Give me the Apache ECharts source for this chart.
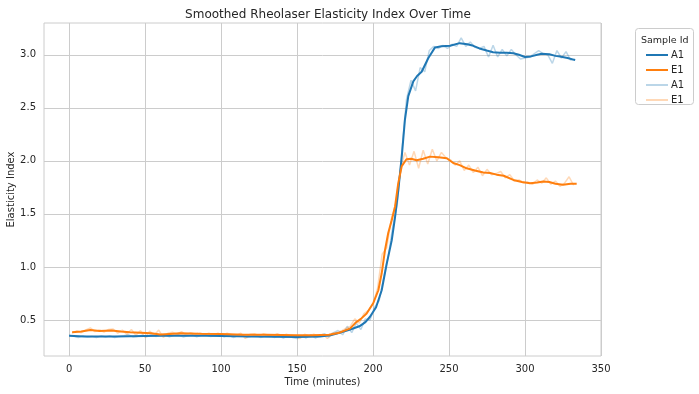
<!DOCTYPE html>
<html><head><meta charset="utf-8">
<script src="https://cdn.jsdelivr.net/npm/echarts@6/dist/echarts.min.js"></script>
<style>html,body{margin:0;padding:0;background:#fff}#c{width:699px;height:394px}</style>
</head><body><div id="c"></div>
<script>
const chartTitle = 'Smoothed Rheolaser Elasticity Index Over Time';
const xName = 'Time (minutes)';
const yName = 'Elasticity Index';
const legendTitle = 'Sample Id';
const xTicks = [0, 50, 100, 150, 200, 250, 300, 350];
const yTicks = [0.5, 1.0, 1.5, 2.0, 2.5, 3.0];

// smoothed series [time, value]
const a1Smooth = [[0,0.35],[10,0.345],[30,0.345],[60,0.35],[90,0.35],[120,0.345],[150,0.34],[165,0.345],[172,0.355],[178,0.38],[185,0.41],[191,0.44],[195,0.48],[198,0.53],[202,0.62],[205.7,0.78],[209,1.03],[212.3,1.25],[214.5,1.47],[216.6,1.72],[218.9,2.04],[221,2.39],[223.2,2.61],[226.5,2.75],[229,2.80],[232,2.84],[236.4,2.97],[240.8,3.07],[245,3.08],[250.7,3.085],[257,3.11],[262,3.10],[266,3.085],[270,3.06],[274.8,3.04],[279,3.025],[283.6,3.02],[288,3.02],[292.3,3.015],[296,3.0],[300,2.98],[304,2.985],[308,3.0],[311,3.01],[316,3.005],[320,2.99],[323,2.985],[328,2.97],[333,2.95]];
const e1Smooth = [[2,0.385],[8,0.39],[14,0.405],[20,0.395],[28,0.40],[34,0.39],[40,0.385],[47,0.38],[54,0.375],[60,0.362],[66,0.368],[73,0.375],[85,0.37],[100,0.368],[115,0.36],[130,0.36],[150,0.355],[160,0.355],[171,0.36],[178,0.38],[185,0.42],[189,0.48],[192,0.51],[195.8,0.56],[200.2,0.66],[203.5,0.78],[205.7,0.94],[207.9,1.16],[210,1.32],[212.3,1.44],[214.5,1.57],[216.6,1.79],[218.9,1.95],[222,2.015],[225,2.02],[228.7,2.005],[233,2.02],[237.5,2.04],[243,2.035],[248.5,2.025],[252.8,1.98],[257,1.96],[261.6,1.93],[267,1.91],[272.6,1.89],[277,1.885],[281.3,1.87],[286,1.86],[292.3,1.82],[298,1.80],[303.3,1.79],[308,1.795],[312,1.805],[316,1.80],[320,1.785],[325,1.775],[330,1.785],[334,1.785]];

// raw series [time, value]
const a1Raw = [[0,0.355],[3,0.345],[6,0.335],[9,0.35],[12,0.34],[15,0.345],[18,0.335],[21,0.35],[24,0.34],[27,0.35],[30,0.335],[33,0.345],[36,0.35],[39,0.36],[42,0.34],[45,0.345],[48,0.355],[51,0.34],[54,0.36],[57,0.345],[60,0.35],[63,0.36],[66,0.34],[69,0.355],[72,0.36],[75,0.34],[78,0.35],[81,0.36],[84,0.34],[87,0.355],[90,0.36],[93,0.345],[96,0.35],[99,0.36],[102,0.34],[105,0.355],[108,0.335],[111,0.35],[114,0.355],[117,0.335],[120,0.345],[123,0.355],[126,0.335],[129,0.35],[132,0.355],[135,0.335],[138,0.35],[141,0.33],[144,0.35],[147,0.335],[150,0.325],[153,0.35],[156,0.33],[159,0.36],[162,0.33],[165,0.35],[168,0.37],[171,0.34],[174,0.38],[177,0.40],[180,0.36],[183,0.44],[186,0.38],[189,0.47],[192,0.41],[195,0.51],[198,0.50],[201,0.62],[204,0.68],[207,0.90],[210,1.10],[213,1.38],[216,1.60],[219,2.10],[222,2.58],[225,2.76],[228,2.66],[231,2.88],[234,2.84],[237,3.04],[240,3.08],[243,3.06],[246,3.09],[249,3.06],[252,3.10],[255,3.08],[258,3.16],[261,3.08],[264,3.12],[267,3.07],[270,3.06],[273,3.08],[276,2.98],[279,3.09],[282,2.98],[285,3.05],[288,2.99],[291,3.05],[294,3.00],[297,2.96],[300,2.97],[303,2.98],[306,3.01],[309,3.04],[312,3.01],[315,3.00],[318,2.92],[321,3.04],[324,2.97],[327,3.03],[330,2.95],[333,2.96]];
const e1Raw = [[2,0.38],[5,0.395],[8,0.38],[11,0.405],[14,0.425],[17,0.39],[20,0.405],[23,0.385],[26,0.41],[29,0.415],[32,0.375],[35,0.405],[38,0.365],[41,0.41],[44,0.355],[47,0.40],[50,0.335],[53,0.395],[56,0.355],[59,0.405],[62,0.335],[65,0.375],[68,0.385],[71,0.365],[74,0.39],[77,0.36],[80,0.38],[83,0.365],[86,0.38],[89,0.36],[92,0.375],[95,0.36],[98,0.375],[101,0.355],[104,0.375],[107,0.36],[110,0.355],[113,0.375],[116,0.325],[119,0.365],[122,0.37],[125,0.35],[128,0.37],[131,0.355],[134,0.35],[137,0.37],[140,0.35],[143,0.365],[146,0.35],[149,0.345],[152,0.325],[155,0.365],[158,0.35],[161,0.365],[164,0.35],[167,0.365],[170,0.325],[173,0.375],[176,0.38],[179,0.395],[182,0.42],[185,0.44],[188,0.51],[191,0.47],[194,0.56],[197,0.59],[200,0.65],[203,0.80],[206,1.12],[209,1.18],[212,1.45],[215,1.60],[218,1.92],[221,2.08],[224,1.96],[227,2.09],[230,1.93],[233,2.10],[236,1.97],[239,2.11],[242,2.00],[245,2.08],[248,2.03],[251,2.01],[254,1.96],[257,2.00],[260,1.91],[263,1.96],[266,1.89],[269,1.94],[272,1.86],[275,1.92],[278,1.87],[281,1.88],[284,1.90],[287,1.84],[290,1.87],[293,1.81],[296,1.82],[299,1.79],[302,1.80],[305,1.78],[308,1.82],[311,1.79],[314,1.84],[317,1.78],[320,1.81],[323,1.76],[326,1.79],[329,1.85],[332,1.77]];

const FONT = 'DejaVu Sans';
const TXT = '#262626';
const chart = echarts.init(document.getElementById('c'), null, {renderer: 'canvas'});
chart.setOption({
  animation: false,
  backgroundColor: '#fff',
  title: [
    {text: chartTitle, left: 323, top: 4, textAlign: 'center', textStyle: {fontFamily: FONT, fontSize: 12, fontWeight: 'normal', color: TXT}},
    {text: legendTitle, left: 636, top: 31, textStyle: {fontFamily: FONT, fontSize: 9.5, fontWeight: 'normal', color: TXT}}
  ],
  graphic: [{type: 'rect', left: 635, top: 28, shape: {width: 58, height: 76, r: 3}, style: {fill: '#fff', stroke: '#cccccc', lineWidth: 1}, z: -1}],
  legend: {
    orient: 'vertical', left: 641, top: 45, itemGap: 5, itemWidth: 22, itemHeight: 2, icon: 'rect',
    data: ['A1', 'E1', 'A1 raw', 'E1 raw'],
    formatter: n => n.replace(' raw', ''),
    textStyle: {fontFamily: FONT, fontSize: 10, color: TXT, padding: [0, 0, 0, -2]}
  },
  grid: {left: 44, top: 23, width: 557, height: 333, show: true, borderColor: '#cccccc', borderWidth: 1, containLabel: false, outerBoundsMode: 'none'},
  xAxis: {
    type: 'value', min: -16.5, max: 350,
    name: xName, nameLocation: 'middle', nameGap: 21, nameMoveOverlap: false,
    nameTextStyle: {fontFamily: FONT, fontSize: 10, color: TXT},
    axisLine: {show: false}, axisTick: {show: false, customValues: xTicks},
    axisLabel: {customValues: xTicks, fontFamily: FONT, fontSize: 10, color: TXT, margin: 8},
    splitLine: {show: true, lineStyle: {color: '#cccccc', width: 1}}
  },
  yAxis: {
    type: 'value', min: 0.16, max: 3.30,
    name: yName, nameLocation: 'middle', nameGap: 28, nameMoveOverlap: false,
    nameTextStyle: {fontFamily: FONT, fontSize: 10, color: TXT},
    axisLine: {show: false}, axisTick: {show: false, customValues: yTicks},
    axisLabel: {customValues: yTicks, formatter: v => v.toFixed(1), fontFamily: FONT, fontSize: 10, color: TXT, margin: 8},
    splitLine: {show: true, lineStyle: {color: '#cccccc', width: 1}}
  },
  series: [
    {name: 'A1 raw', type: 'line', data: a1Raw, showSymbol: false, color: 'rgba(31,119,180,0.3)', lineStyle: {width: 1.5, color: 'rgba(31,119,180,0.3)'}, z: 1},
    {name: 'E1 raw', type: 'line', data: e1Raw, showSymbol: false, color: 'rgba(255,127,14,0.3)', lineStyle: {width: 1.5, color: 'rgba(255,127,14,0.3)'}, z: 1},
    {name: 'A1', type: 'line', data: a1Smooth, showSymbol: false, color: '#1f77b4', lineStyle: {width: 2, color: '#1f77b4'}, z: 3},
    {name: 'E1', type: 'line', data: e1Smooth, showSymbol: false, color: '#ff7f0e', lineStyle: {width: 2, color: '#ff7f0e'}, z: 4}
  ]
});
</script>
</body></html>
